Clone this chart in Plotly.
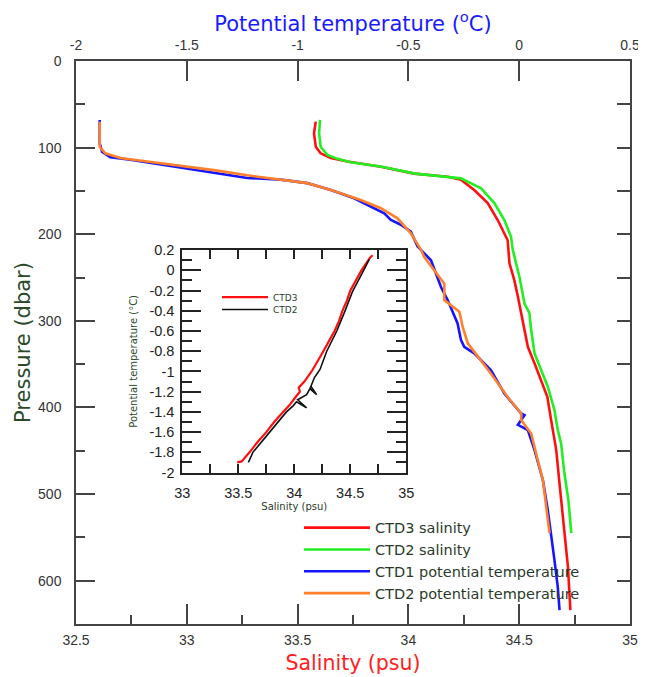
import plotly.graph_objects as go

# ---------------- main chart data ----------------
# CTD3 salinity (red)
ctd3_sal_p = [70, 83.5, 99, 106.6, 112, 116, 122, 130, 133.6, 137, 149, 164, 183.6, 207, 233.6, 253, 272, 310.6, 330, 349, 368, 387.6, 414.5, 449, 488, 545, 584, 634]
ctd3_sal = [33.582, 33.574, 33.582, 33.604, 33.650, 33.725, 33.876, 34.026, 34.177, 34.237, 34.297, 34.358, 34.403, 34.448, 34.456, 34.478, 34.494, 34.524, 34.539, 34.569, 34.599, 34.627, 34.644, 34.667, 34.682, 34.704, 34.720, 34.731]
# CTD2 salinity (green)
ctd2_sal_p = [68, 83.5, 99, 108.5, 113, 117, 122, 130, 135.5, 147, 164, 183.6, 203, 218, 249, 280, 291, 310.6, 337.5, 357, 376, 403, 426, 441.5, 476, 507, 545]
ctd2_sal = [33.601, 33.597, 33.604, 33.635, 33.680, 33.740, 33.880, 34.030, 34.237, 34.328, 34.388, 34.433, 34.463, 34.471, 34.501, 34.524, 34.546, 34.554, 34.569, 34.599, 34.629, 34.659, 34.674, 34.689, 34.704, 34.722, 34.735]
# CTD1 potential temperature (blue)
ctd1_t_p = [68, 95, 105, 111, 114, 120, 126, 130, 135, 137, 141, 149, 158.5, 176, 183.6, 189, 197, 214, 230, 261, 276, 303, 322, 330, 337.5, 357, 384, 407, 409, 420, 426, 449, 484, 518.5, 545, 576, 607, 634]
ctd1_t = [-1.893, -1.893, -1.882, -1.845, -1.755, -1.604, -1.453, -1.348, -1.227, -1.076, -0.956, -0.850, -0.745, -0.609, -0.579, -0.534, -0.489, -0.459, -0.398, -0.353, -0.323, -0.278, -0.263, -0.248, -0.203, -0.127, -0.067, 0.009, 0.024, -0.006, 0.039, 0.069, 0.107, 0.129, 0.144, 0.159, 0.174, 0.182]
# CTD2 potential temperature (orange)
ctd2_t_p = [70, 99, 106.6, 112, 116, 121, 126, 132, 136.6, 141, 149, 160.5, 170, 181.6, 199, 218, 226, 257, 276, 289.5, 307, 326, 341, 361, 388, 407, 414.5, 430, 453, 484, 515, 545]
ctd2_t = [-1.893, -1.893, -1.868, -1.800, -1.679, -1.528, -1.378, -1.227, -1.076, -0.956, -0.850, -0.715, -0.624, -0.549, -0.489, -0.443, -0.429, -0.338, -0.338, -0.270, -0.255, -0.232, -0.187, -0.127, -0.052, 0.009, 0.009, 0.054, 0.076, 0.107, 0.122, 0.137]

# ---------------- inset (T-S) data ----------------
inset_ctd3_s = [33.49, 33.53, 33.60, 33.67, 33.75, 33.82, 33.90, 33.96, 34.00, 34.05, 34.04, 34.09, 34.155, 34.21, 34.26, 34.31, 34.36, 34.40, 34.43, 34.47, 34.50, 34.55, 34.60, 34.68, 34.70]
inset_ctd3_t = [-1.90, -1.89, -1.80, -1.70, -1.60, -1.50, -1.40, -1.33, -1.27, -1.20, -1.16, -1.10, -1.00, -0.90, -0.80, -0.70, -0.60, -0.50, -0.40, -0.30, -0.20, -0.10, 0.00, 0.13, 0.15]
inset_ctd2_s = [33.59, 33.63, 33.78, 33.93, 33.99, 34.02, 34.11, 34.03, 34.11, 34.15, 34.20, 34.14, 34.18, 34.23, 34.29, 34.38, 34.45, 34.52, 34.62, 34.67]
inset_ctd2_t = [-1.90, -1.80, -1.60, -1.40, -1.34, -1.30, -1.36, -1.28, -1.23, -1.15, -1.23, -1.17, -1.06, -0.98, -0.80, -0.60, -0.41, -0.21, 0.00, 0.11]

# ---------------- tick labels ----------------
sal_ticks = [32.5, 33, 33.5, 34, 34.5, 35]
sal_labels = ["32.5", "33", "33.5", "34", "34.5", "35"]
temp_ticks = [-2, -1.5, -1, -0.5, 0, 0.5]
temp_labels = ["-2", "-1.5", "-1", "-0.5", "0", "0.5"]
pres_ticks = [0, 100, 200, 300, 400, 500, 600]
pres_labels = ["0", "100", "200", "300", "400", "500", "600"]
inset_s_ticks = [33, 33.5, 34, 34.5, 35]
inset_s_labels = ["33", "33.5", "34", "34.5", "35"]
inset_t_ticks = [0.2, 0, -0.2, -0.4, -0.6, -0.8, -1, -1.2, -1.4, -1.6, -1.8, -2]
inset_t_labels = ["0.2", "0", "-0.2", "-0.4", "-0.6", "-0.8", "-1", "-1.2", "-1.4", "-1.6", "-1.8", "-2"]

AX = "#444444"
TICKFONT = dict(family="Liberation Sans, Arial, sans-serif", size=14, color="#333333")
INSETTICK = dict(family="Liberation Sans, Arial, sans-serif", size=14.5, color="#222222")
TITLEFONT = "DejaVu Sans, Verdana, sans-serif"

fig = go.Figure()

fig.add_trace(go.Scatter(x=ctd3_sal, y=ctd3_sal_p, mode="lines", name="CTD3 salinity",
                         line=dict(color="#ff1010", width=2.6), xaxis="x", yaxis="y"))
fig.add_trace(go.Scatter(x=ctd2_sal, y=ctd2_sal_p, mode="lines", name="CTD2 salinity",
                         line=dict(color="#22ee22", width=2.6), xaxis="x", yaxis="y"))
fig.add_trace(go.Scatter(x=ctd1_t, y=ctd1_t_p, mode="lines", name="CTD1 potential temperature",
                         line=dict(color="#1515ff", width=2.6), xaxis="x2", yaxis="y"))
fig.add_trace(go.Scatter(x=ctd2_t, y=ctd2_t_p, mode="lines", name="CTD2 potential temperature",
                         line=dict(color="#ff7f2a", width=2.6), xaxis="x2", yaxis="y"))
# right-side tick axis (no data of its own)
fig.add_trace(go.Scatter(x=[None], y=[None], xaxis="x", yaxis="y2", showlegend=False, hoverinfo="skip"))

fig.add_trace(go.Scatter(x=inset_ctd3_s, y=inset_ctd3_t, mode="lines", name="CTD3",
                         line=dict(color="#ff1010", width=2.2), xaxis="x3", yaxis="y3", legend="legend2"))
fig.add_trace(go.Scatter(x=inset_ctd2_s, y=inset_ctd2_t, mode="lines", name="CTD2",
                         line=dict(color="#111111", width=1.6), xaxis="x3", yaxis="y3", legend="legend3"))

fig.update_layout(
    width=646, height=677,
    margin=dict(l=68, r=24, t=53, b=61, autoexpand=False),
    paper_bgcolor="white", plot_bgcolor="white",
    xaxis=dict(range=[32.5, 35], tickmode="array", tickvals=sal_ticks, ticktext=sal_labels, automargin=False,
               ticks="inside", ticklen=20, tickwidth=1.5, tickcolor=AX,
               minor=dict(dtick=0.25, tick0=32.5, ticks="inside", ticklen=9, tickwidth=1.5, tickcolor=AX, showgrid=False),
               showline=True, linecolor=AX, linewidth=1.5, showgrid=False, zeroline=False,
               tickfont=TICKFONT, ticklabelstandoff=2,
               title=dict(text="Salinity (psu)", font=dict(family=TITLEFONT, size=20.5, color="#ff2020"), standoff=9)),
    xaxis2=dict(range=[-2, 0.5], overlaying="x", side="top", anchor="y", tickmode="array", automargin=False,
                tickvals=temp_ticks, ticktext=temp_labels,
                ticks="inside", ticklen=20, tickwidth=1.5, tickcolor=AX,
                showline=True, linecolor=AX, linewidth=1.5, showgrid=False, zeroline=False,
                tickfont=TICKFONT, ticklabelstandoff=4,
                title=dict(text="Potential temperature (<sup>o</sup>C)", font=dict(family=TITLEFONT, size=21, color="#1a1aff"), standoff=0)),
    yaxis=dict(range=[650, 0], tickmode="array", tickvals=pres_ticks, ticktext=pres_labels, automargin=False,
               ticks="inside", ticklen=19, tickwidth=1.5, tickcolor=AX,
               minor=dict(dtick=50, tick0=0, ticks="inside", ticklen=9, tickwidth=1.5, tickcolor=AX, showgrid=False),
               showline=True, linecolor=AX, linewidth=1.5, showgrid=False, zeroline=False,
               tickfont=TICKFONT, ticklabelstandoff=10,
               title=dict(text="Pressure (dbar)", font=dict(family=TITLEFONT, size=21, color="#2a4a2a"), standoff=2)),
    yaxis2=dict(range=[650, 0], overlaying="y", side="right", anchor="x", dtick=50, tick0=0, automargin=False,
                ticks="inside", ticklen=13, tickwidth=1.5, tickcolor=AX, showticklabels=False,
                showline=True, linecolor=AX, linewidth=1.5, showgrid=False, zeroline=False),
    xaxis3=dict(domain=[0.192, 0.596], anchor="y3", range=[33, 35], tickmode="array", automargin=False,
                tickvals=inset_s_ticks, ticktext=inset_s_labels,
                ticks="inside", ticklen=9, tickwidth=1.5, tickcolor="#222222", mirror="ticks",
                minor=dict(dtick=0.25, tick0=33, ticks="inside", ticklen=9, tickwidth=1.5, tickcolor="#222222", showgrid=False),
                showline=True, linecolor="#222222", linewidth=2, showgrid=False, zeroline=False,
                tickfont=INSETTICK, ticklabelstandoff=6,
                title=dict(text="Salinity (psu)", font=dict(family=TITLEFONT, size=10, color="#2a3a2a"), standoff=0)),
    yaxis3=dict(domain=[0.269, 0.664], anchor="x3", range=[-2, 0.2], tickmode="array", automargin=False,
                tickvals=inset_t_ticks, ticktext=inset_t_labels,
                ticks="inside", ticklen=19, tickwidth=1.5, tickcolor="#222222", mirror="ticks",
                minor=dict(dtick=0.1, tick0=0, ticks="inside", ticklen=10, tickwidth=1.5, tickcolor="#222222", showgrid=False),
                showline=True, linecolor="#222222", linewidth=2, showgrid=False, zeroline=False,
                tickfont=INSETTICK, ticklabelstandoff=3,
                title=dict(text="Potential temperature (°C)", font=dict(family=TITLEFONT, size=10, color="#2a4a2a"), standoff=10)),
    legend=dict(x=0.4025, y=0.1995, xanchor="left", yanchor="top", bgcolor="rgba(0,0,0,0)",
                font=dict(family=TITLEFONT, size=14.5, color="#2a3a2a"), itemwidth=66,
                tracegroupgap=0),
    legend2=dict(x=0.2545, y=0.6064, xanchor="left", yanchor="top", bgcolor="rgba(0,0,0,0)",
                 font=dict(family=TITLEFONT, size=9, color="#2a3a2a"), itemwidth=46),
    legend3=dict(x=0.2545, y=0.5844, xanchor="left", yanchor="top", bgcolor="rgba(0,0,0,0)",
                 font=dict(family=TITLEFONT, size=9, color="#2a3a2a"), itemwidth=46),
    showlegend=True,
)

fig.write_html("out.html")
